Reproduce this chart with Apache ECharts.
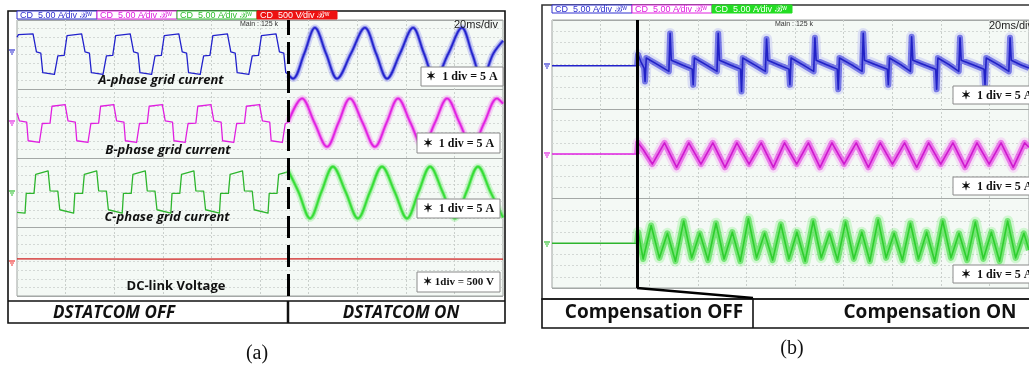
<!DOCTYPE html>
<html>
<head>
<meta charset="utf-8">
<script src="https://cdn.jsdelivr.net/npm/echarts@6/dist/echarts.min.js"></script>
<style>
html, body { margin: 0; padding: 0; background: #fff; }
#chart { width: 1029px; height: 367px; }
</style>
</head>
<body>
<div id="chart"></div>
<script>
// time in ms (20 ms/div), value in sub-divisions relative to each channel's zero

// ---- panel (a): DSTATCOM OFF / ON ----
const aSwitchT = 111.5;
const aPhaseA_off = [
  [0,2.0],[0.6,2.3],[1.2,2.4],[6.6,2.4],[7.4,2.2],[8.0,0.3],[9.8,0.15],[10.6,-2.1],[11.2,-2.3],[15.4,-2.3],[16.0,-2.1],[16.8,-0.15],[19.4,-0.1],
  [20.6,2.2],[21.2,2.4],[26.6,2.4],[27.4,2.2],[28.0,0.3],[29.8,0.15],[30.6,-2.1],[31.2,-2.3],[35.4,-2.3],[36.0,-2.1],[36.8,-0.15],[39.4,-0.1],
  [40.6,2.2],[41.2,2.4],[46.6,2.4],[47.4,2.2],[48.0,0.3],[49.8,0.15],[50.6,-2.1],[51.2,-2.3],[55.4,-2.3],[56.0,-2.1],[56.8,-0.15],[59.4,-0.1],
  [60.6,2.2],[61.2,2.4],[66.6,2.4],[67.4,2.2],[68.0,0.3],[69.8,0.15],[70.6,-2.1],[71.2,-2.3],[75.4,-2.3],[76.0,-2.1],[76.8,-0.15],[79.4,-0.1],
  [80.6,2.2],[81.2,2.4],[86.6,2.4],[87.4,2.2],[88.0,0.3],[89.8,0.15],[90.6,-2.1],[91.2,-2.3],[95.4,-2.3],[96.0,-2.1],[96.8,-0.15],[99.4,-0.1],
  [100.6,2.2],[101.2,2.4],[106.6,2.4],[107.4,2.2],[108.0,0.3],[109.8,0.15],[110.6,-2.1],[111.2,-2.3],[111.5,-2.3]
];
const aPhaseA_on = [
  [111.5,-2.3],[113.6,-2.8],[118.2,0.1],[122.6,3.1],[127.2,0.1],[131.7,-2.8],[137.4,0.1],[143.2,3.1],[147.8,0.1],
  [152.3,-2.8],[157.6,0.1],[163,3.1],[167.5,0.1],[172,-2.8],[177.5,0.1],[183.1,3.1],[187.3,0.1],[191.4,-2.8],[196,0.1],[200,1.6]
];
const aPhaseB_off = [
  [0,1.2],[1.0,0.3],[4.0,0.15],[4.6,-2.0],[5.2,-2.2],[9.2,-2.2],[9.8,-2.0],[10.4,0.0],[13.6,0.05],[14.4,2.0],[15.0,2.2],[19.8,2.2],[20.4,2.0],
  [21.0,0.3],[24.0,0.15],[24.6,-2.0],[25.2,-2.2],[29.2,-2.2],[29.8,-2.0],[30.4,0.0],[33.6,0.05],[34.4,2.0],[35.0,2.2],[39.8,2.2],[40.4,2.0],
  [41.0,0.3],[44.0,0.15],[44.6,-2.0],[45.2,-2.2],[49.2,-2.2],[49.8,-2.0],[50.4,0.0],[53.6,0.05],[54.4,2.0],[55.0,2.2],[59.8,2.2],[60.4,2.0],
  [61.0,0.3],[64.0,0.15],[64.6,-2.0],[65.2,-2.2],[69.2,-2.2],[69.8,-2.0],[70.4,0.0],[73.6,0.05],[74.4,2.0],[75.0,2.2],[79.8,2.2],[80.4,2.0],
  [81.0,0.3],[84.0,0.15],[84.6,-2.0],[85.2,-2.2],[89.2,-2.2],[89.8,-2.0],[90.4,0.0],[93.6,0.05],[94.4,2.0],[95.0,2.2],[99.8,2.2],[100.4,2.0],
  [101.0,0.3],[104.0,0.15],[104.6,-2.0],[105.2,-2.2],[109.2,-2.2],[109.8,-2.0],[110.4,0.0],[111.5,0.1]
];
const aPhaseB_on = [
  [111.5,0.1],[117.3,2.9],[122.4,0.1],[127.6,-2.7],[132.3,0.1],[137,2.9],[142.2,0.1],[147.3,-2.7],[152.1,0.1],[156.8,2.9],
  [161.9,0.1],[167,-2.7],[172,0.1],[177,2.9],[182.1,0.1],[187.2,-2.7],[192.3,0.1],[197.5,2.9],[200,2.3]
];
const aPhaseC_off = [
  [0,-2.3],[3.3,-2.4],[3.8,-0.1],[7.0,-0.1],[7.7,2.1],[12.8,2.5],[13.6,0.2],[16.8,0.15],[17.6,-2.0],
  [23.3,-2.4],[23.8,-0.1],[27.0,-0.1],[27.7,2.1],[32.8,2.5],[33.6,0.2],[36.8,0.15],[37.6,-2.0],
  [43.3,-2.4],[43.8,-0.1],[47.0,-0.1],[47.7,2.1],[52.8,2.5],[53.6,0.2],[56.8,0.15],[57.6,-2.0],
  [63.3,-2.4],[63.8,-0.1],[67.0,-0.1],[67.7,2.1],[72.8,2.5],[73.6,0.2],[76.8,0.15],[77.6,-2.0],
  [83.3,-2.4],[83.8,-0.1],[87.0,-0.1],[87.7,2.1],[92.8,2.5],[93.6,0.2],[96.8,0.15],[97.6,-2.0],
  [103.3,-2.4],[103.8,-0.1],[107.0,-0.1],[107.7,2.1],[111.5,2.4]
];
const aPhaseC_on = [
  [111.5,2.6],[115.8,0.1],[120.6,-3.0],[125.3,0.1],[130,3.0],[135.2,0.1],[140.3,-3.0],[145.3,0.1],[150.2,3.0],[155.4,0.1],
  [160.5,-3.0],[165.3,0.1],[170,3.0],[175.1,0.1],[180.2,-3.0],[185,0.1],[189.7,3.0],[194.8,0.1],[200,-2.9]
];
const aDcLink = [[0,0.3],[60,0.28],[120,0.3],[200,0.28]];

// ---- panel (b): compensation OFF / ON ----
const bSwitchT = 35;
const bPhaseA_off = [[0,-0.1],[35,-0.1]];
const bPhaseA_on = [
  [35,-0.1],[35.4,0.9],[36.5,0.3],[37.9,-0.3],[38.3,-1.5],[38.8,0.6],[43.5,0.0],[48.1,-0.6],[48.6,2.8],[49.1,0.4],[53.4,0.0],[57.7,-0.4],
  [58.1,-1.8],[58.6,0.6],[63.3,0.0],[67.9,-0.6],[68.4,2.8],[68.9,0.4],[73.2,0.0],[77.6,-0.4],
  [78.0,-2.4],[78.5,0.6],[83.2,0.0],[87.8,-0.6],[88.3,2.3],[88.8,0.4],[93.1,0.0],[97.5,-0.4],
  [97.9,-1.8],[98.4,0.6],[103.1,0.0],[107.7,-0.6],[108.2,2.4],[108.7,0.4],[113.0,0.0],[117.4,-0.4],
  [117.8,-2.2],[118.3,0.6],[123.2,0.0],[127.6,-0.6],[128.1,2.8],[128.6,0.4],[133.2,0.0],[138.0,-0.4],
  [138.4,-1.8],[138.9,0.6],[143.5,0.0],[147.5,-0.6],[148.0,2.5],[148.5,0.4],[153.1,0.0],[157.9,-0.4],
  [158.3,-2.2],[158.8,0.6],[163.4,0.0],[167.4,-0.6],[167.9,2.4],[168.4,0.4],[173.2,0.0],[177.8,-0.4],
  [178.2,-1.8],[178.7,0.6],[183.6,0.0],[188.0,-0.6],[188.5,2.4],[189.0,0.4],[192.8,0.0],[196.3,-0.3]
];
const bPhaseB_off = [[0,0],[35,0]];
const bPhaseB_on = [
  [35,0],[35.4,1.0],[37.5,0.4],[41.3,-0.9],[46.3,1.0],[51.3,-1.2],[56.3,1.0],[61.3,-0.9],[66.2,1.0],[71.2,-1.2],
  [76.1,1.0],[81.1,-0.9],[86.1,1.0],[91.1,-1.2],[95.7,1.0],[100.7,-0.9],[105.5,1.0],[110.3,-1.2],[115.2,1.0],[120.2,-0.9],
  [125.2,1.0],[130.2,-1.2],[135.1,1.0],[140.1,-0.9],[145.1,1.0],[150.1,-1.2],[155,1.0],[160,-0.9],[165,1.0],[170,-1.2],
  [174.9,1.0],[179.9,-0.9],[184.8,1.0],[189.8,-1.2],[194.5,1.0],[196.3,0.6]
];
const bPhaseC_off = [[0,0],[35,0]];
const bPhaseC_on = [
  [35,0],[35.5,1.0],[37.5,-1.4],[40.8,1.6],[44.2,-1.3],[47.5,0.9],[50.8,-1.6],[54.2,2.0],[57.5,-1.3],[60.8,0.9],
  [64.2,-1.5],[67.5,1.8],[70.8,-1.4],[74.2,1.0],[77.5,-1.6],[80.8,2.2],[84.2,-1.3],[87.5,0.9],[90.8,-1.5],[94.2,1.7],
  [97.5,-1.4],[100.8,1.0],[104.2,-1.6],[107.5,2.0],[110.8,-1.3],[114.2,0.9],[117.5,-1.5],[120.8,1.9],[124.2,-1.4],[127.5,1.0],
  [130.8,-1.6],[134.2,2.1],[137.5,-1.3],[140.8,0.9],[144.2,-1.5],[147.5,1.8],[150.8,-1.4],[154.2,1.0],[157.5,-1.6],[160.8,2.0],
  [164.2,-1.3],[167.5,0.9],[170.8,-1.5],[174.2,1.9],[177.5,-1.4],[180.8,1.0],[184.2,-1.6],[187.5,2.0],[190.8,-1.3],[194.2,0.9],[196.3,-0.6]
];

// channel zero levels (in sub-divisions from bottom of each screen)
const aZero = { A: 28, B: 20, C: 12, DC: 4 };
const bZero = { A: 20, B: 12, C: 4 };

const blue = '#2222cc', magenta = '#e01fe0', greenOff = '#2db52d', greenOn = '#33dd33', red = '#d01f1f';

function lift(pts, z) { return pts.map(p => [p[0], p[1] + z]); }

function trace(data, color, width, opacity, smooth, xi, yi, extra) {
  return Object.assign({
    type: 'line', data: data, xAxisIndex: xi, yAxisIndex: yi,
    showSymbol: false, smooth: smooth, silent: true,
    lineStyle: { color: color, width: width, opacity: opacity, join: 'round' }
  }, extra || {});
}

function divider(t, dash) {
  return {
    silent: true, symbol: 'none', label: { show: false },
    lineStyle: { color: '#000', width: 3, type: dash },
    data: [{ xAxis: t }]
  };
}

// a noisy trace is drawn as a light wide band, a denser middle band and a core line
function fuzzy(data, colors, widths, opac, smooth, xi, yi) {
  return [
    trace(data, colors[0], widths[0], opac[0], smooth, xi, yi),
    trace(data, colors[1], widths[1], opac[1], smooth, xi, yi),
    trace(data, colors[2], widths[2], opac[2], smooth, xi, yi)
  ];
}

const series = [].concat(
  // (a)
  [trace(lift(aPhaseA_off, aZero.A), blue, 1.3, 1, false, 0, 0, { markLine: divider(aSwitchT, [22, 7]) })],
  fuzzy(lift(aPhaseA_on, aZero.A), ['#8080ee', '#4444dd', blue], [7, 3.5, 1.6], [0.3, 0.6, 1], 0.35, 0, 0),
  [trace(lift(aPhaseB_off, aZero.B), magenta, 1.3, 1, false, 0, 0)],
  fuzzy(lift(aPhaseB_on, aZero.B), ['#f290f2', '#e846e8', magenta], [7, 3.5, 1.6], [0.35, 0.6, 1], 0.35, 0, 0),
  [trace(lift(aPhaseC_off, aZero.C), greenOff, 1.3, 1, false, 0, 0)],
  fuzzy(lift(aPhaseC_on, aZero.C), ['#99f099', '#55e055', greenOn], [7, 3.5, 1.6], [0.4, 0.65, 1], 0.35, 0, 0),
  [trace(lift(aDcLink, aZero.DC), red, 1.4, 1, false, 0, 0)],
  // (b)
  [trace(lift(bPhaseA_off, bZero.A), blue, 1.5, 1, false, 1, 2, { markLine: divider(bSwitchT, 'solid') })],
  fuzzy(lift(bPhaseA_on, bZero.A), ['#8a8af2', '#3030dc', '#1c1cc4'], [11, 6, 1.6], [0.22, 0.6, 0.95], false, 1, 2),
  [trace(lift(bPhaseB_off, bZero.B), magenta, 1.5, 1, false, 1, 2)],
  fuzzy(lift(bPhaseB_on, bZero.B), ['#f48af4', '#e236e2', '#cc14cc'], [11, 6, 1.6], [0.25, 0.6, 0.95], false, 1, 2),
  [trace(lift(bPhaseC_off, bZero.C), greenOff, 1.5, 1, false, 1, 2)],
  fuzzy(lift(bPhaseC_on, bZero.C), ['#8ff08f', '#44dc44', '#2acc2a'], [11, 6, 1.6], [0.35, 0.65, 0.95], false, 1, 2)
);

function xAx(gi, max) {
  return {
    type: 'value', gridIndex: gi, min: 0, max: max, interval: 20,
    axisLine: { show: false }, axisTick: { show: false }, axisLabel: { show: false },
    splitLine: { show: true, lineStyle: { color: '#c9cfcb', type: [2, 2] } }
  };
}
function yAx(gi, max, step, solid) {
  return {
    type: 'value', gridIndex: gi, min: 0, max: max, interval: step,
    axisLine: { show: false }, axisTick: { show: false }, axisLabel: { show: false },
    splitLine: { show: true, lineStyle: solid ? { color: '#a4a8a6', width: 1 } : { color: '#d3d8d5', type: [2, 2] } }
  };
}

// ---- annotations ----
const sans = "'Open Sans', 'Liberation Sans', sans-serif";
const serif = "'Liberation Serif', 'DejaVu Serif', serif";

function txt(x, y, s, size, opts) {
  opts = opts || {};
  return {
    type: 'text', silent: true, z: 100,
    style: {
      x: x, y: y, text: s, fill: opts.fill || '#111',
      fontSize: size, fontFamily: opts.family || sans,
      fontWeight: opts.weight || 'normal', fontStyle: opts.style || 'normal',
      align: opts.align || 'center', verticalAlign: 'middle',
      textAlign: opts.align || 'center', textVerticalAlign: 'middle'
    }
  };
}
function rect(x, y, w, h, fill, stroke, lw) {
  return { type: 'rect', silent: true, z: 90, shape: { x: x, y: y, width: w, height: h },
    style: { fill: fill, stroke: stroke, lineWidth: lw || 1 } };
}
function line(x1, y1, x2, y2, color, lw, z) {
  return { type: 'line', silent: true, z: z || 95, shape: { x1: x1, y1: y1, x2: x2, y2: y2 },
    style: { stroke: color, lineWidth: lw } };
}
function divBox(x, y, w, h, s, size, align) {
  return [
    rect(x, y, w, h, '#fff', '#8a8a8a', 1),
    txt(align === 'left' ? x + 8 : x + w / 2, y + h / 2 + 0.5, s, size, { family: serif, weight: 'bold', align: align || 'center' })
  ];
}
function chanTag(x, y, w, s, color, filled) {
  return [
    rect(x, y, w, 8, filled ? color : '#fff', color, 1),
    txt(x + 3, y + 4.5, s, 9, { fill: filled ? '#fff' : color, align: 'left', family: "'Liberation Sans', sans-serif" })
  ];
}
function ground(x, y, color) {
  return [
    line(x, y, x + 6, y, color, 1.2, 96),
    line(x + 1, y + 2, x + 5, y + 2, color, 1, 96),
    line(x + 2, y + 4, x + 4, y + 4, color, 1, 96)
  ];
}

const graphics = [].concat(
  // panel (a) frame and strips
  [rect(8, 11, 497, 312, 'transparent', '#111', 1.6)],
  [line(8, 301, 505, 301, '#111', 1.6), line(288, 301, 288, 323, '#111', 2.5)],
  chanTag(17, 11, 80, 'CD  5.00 A\u2215div \u212C\u02B7', '#3030d0', false),
  chanTag(97, 11, 80, 'CD  5.00 A\u2215div \u212C\u02B7', '#e020e0', false),
  chanTag(177, 11, 80, 'CD  5.00 A\u2215div \u212C\u02B7', '#2fbf2f', false),
  chanTag(257, 11, 80, 'CD  500 V\u2215div \u212C\u02B7', '#ee1111', true),
  [txt(259, 24, 'Main : 125 k', 7, { fill: '#333', family: "'Liberation Sans', sans-serif" })],
  [txt(476, 25, '20ms/div', 11, { fill: '#222', family: "'Liberation Sans', sans-serif" })],
  ground(9, 50, '#3030d0'), ground(9, 121, '#e020e0'), ground(9, 191, '#2fbf2f'), ground(9, 261, '#ee3333'),
  [txt(161, 80, 'A-phase grid current', 13, { weight: 'bold', style: 'italic' })],
  [txt(168, 150, 'B-phase grid current', 13, { weight: 'bold', style: 'italic' })],
  [txt(167, 217, 'C-phase grid current', 13, { weight: 'bold', style: 'italic' })],
  [txt(176, 286, 'DC-link Voltage', 13, { weight: 'bold' })],
  divBox(421, 67, 82, 19, '\u2736  1 div = 5 A', 12),
  divBox(417, 133, 83, 20, '\u2736  1 div = 5 A', 12),
  divBox(417, 199, 83, 19, '\u2736  1 div = 5 A', 12),
  divBox(417, 272, 83, 20, '\u2736 1div = 500 V', 11),
  [txt(114, 313, 'DSTATCOM OFF', 17, { weight: 'bold', style: 'italic' })],
  [txt(401, 313, 'DSTATCOM ON', 17, { weight: 'bold', style: 'italic' })],
  [txt(257, 354, '(a)', 20, { family: serif })],

  // panel (b) frame and strips
  [rect(542, 5, 520, 294, 'transparent', '#333', 1.6), rect(542, 299, 520, 29, 'transparent', '#111', 1.6)],
  [line(637, 288, 753, 298, '#000', 2.5), line(753, 298, 753, 328, '#111', 1.6)],
  chanTag(552, 5, 80, 'CD  5.00 A\u2215div \u212C\u02B7', '#3030d0', false),
  chanTag(632, 5, 80, 'CD  5.00 A\u2215div \u212C\u02B7', '#e020e0', false),
  chanTag(712, 5, 80, 'CD  5.00 A\u2215div \u212C\u02B7', '#22dd22', true),
  [txt(794, 24, 'Main : 125 k', 7, { fill: '#333', family: "'Liberation Sans', sans-serif" })],
  [txt(1011, 26, '20ms/div', 11, { fill: '#222', family: "'Liberation Sans', sans-serif" })],
  ground(544, 64, '#3030d0'), ground(544, 153, '#e020e0'), ground(544, 242, '#2fbf2f'),
  divBox(953, 86, 90, 18, '\u2736  1 div = 5 A', 12, 'left'),
  divBox(953, 177, 90, 18, '\u2736  1 div = 5 A', 12, 'left'),
  divBox(953, 265, 90, 18, '\u2736  1 div = 5 A', 12, 'left'),
  [txt(654, 313, 'Compensation OFF', 19, { weight: 'bold' })],
  [txt(930, 313, 'Compensation ON', 19, { weight: 'bold' })],
  [txt(792, 349, '(b)', 20, { family: serif })]
);

const chart = echarts.init(document.getElementById('chart'), null, { renderer: 'canvas' });
chart.setOption({
  animation: false,
  backgroundColor: '#fff',
  grid: [
    { left: 17, top: 20, width: 486, height: 276, show: true, backgroundColor: '#f4f9f5', borderColor: '#9ea3a0', borderWidth: 1 },
    { left: 552, top: 20, width: 477, height: 268, show: true, backgroundColor: '#f4f9f5', borderColor: '#9ea3a0', borderWidth: 1 }
  ],
  xAxis: [xAx(0, 200), xAx(1, 196.3)],
  yAxis: [yAx(0, 32, 1, false), yAx(0, 32, 8, true), yAx(1, 24, 1, false), yAx(1, 24, 8, true)],
  series: series,
  graphic: graphics
});
</script>
</body>
</html>
